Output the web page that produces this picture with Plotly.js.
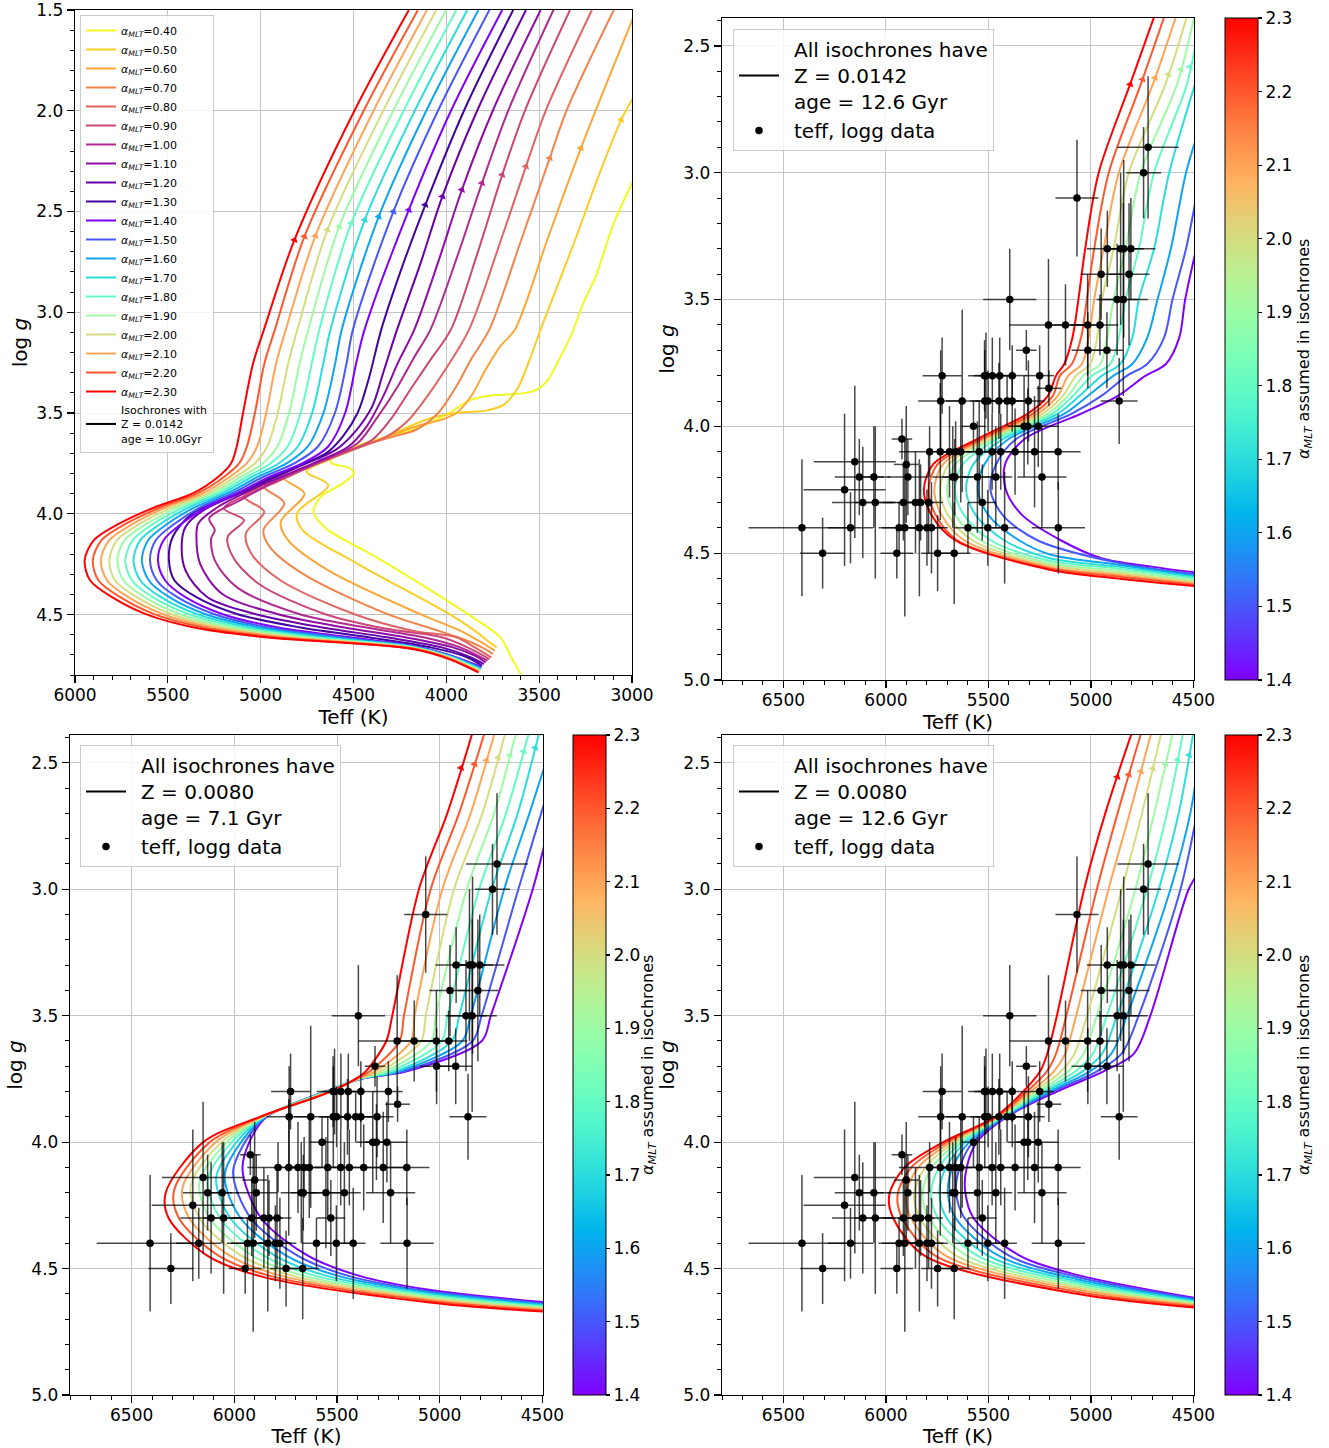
<!DOCTYPE html>
<html><head><meta charset="utf-8">
<script src="https://cdn.plot.ly/plotly-3.0.1.min.js"></script>
<style>body{margin:0;background:#fff}#chart{width:1329px;height:1448px}</style>
</head><body><div id="chart"></div>
<script>
// ---------------- DATA ----------------
// Panel 1: Z=0.0142, age 10.0 Gyr, alpha 0.40..2.30
const p1_alpha = [0.4,0.5,0.6,0.7,0.8,0.9,1.0,1.1,1.2,1.3,1.4,1.5,1.6,1.7,1.8,1.9,2.0,2.1,2.2,2.3];
const p1_teff = [
 [3560,3600,3650,3709,3886,4084,4380,4636,4705,4715,4675,4557,4498,4518,4616,4626,4537,4380,4182,3985,3886,3788,3689,3571,3512,3452,3393,3330,3260,3196,3098,2990],
 [3729,3778,3847,3985,4478,4774,4804,4636,4754,4636,4478,4281,4084,3926,3788,3689,3610,3551,3492,3310,3170,3058,2990],
 [3739,3827,3926,4143,4636,4853,4892,4764,4873,4754,4557,4360,4163,4024,3946,3867,3788,3709,3630,3460,3275,2990],
 [3748,3808,3886,4044,4320,4774,4951,4985,4873,4981,4833,4636,4439,4281,4163,4044,3946,3867,3768,3600,3443,3353,3098],
 [3758,3847,3946,4182,4498,4892,5050,5080,4981,5090,4912,4675,4478,4320,4202,4103,4005,3877,3720,3571,3465,3216],
 [3768,3886,4024,4320,4656,5011,5149,5178,5090,5198,5011,4774,4557,4399,4301,4182,4084,3975,3830,3699,3577,3334],
 [3778,3926,4123,4439,4794,5129,5247,5267,5247,5277,5109,4873,4636,4478,4380,4261,4170,4085,3940,3808,3667,3423],
 [3788,3847,3965,4222,4557,4912,5208,5326,5346,5336,5228,4971,4715,4527,4429,4340,4261,4172,4040,3916,3750,3492],
 [3798,3867,4024,4320,4675,5030,5287,5405,5425,5405,5307,5070,4794,4596,4498,4399,4340,4265,4140,4021,3834,3571],
 [3808,3886,4084,4419,4794,5129,5346,5464,5494,5474,5366,5129,4853,4646,4557,4478,4419,4350,4240,4113,3905,3640],
 [3810,3985,4182,4518,4912,5208,5405,5514,5553,5523,5425,5287,5129,4951,4774,4636,4545,4485,4440,4202,3975,3699],
 [3812,3985,4182,4569,4963,5253,5449,5559,5596,5565,5462,5318,5155,4983,4817,4691,4600,4537,4503,4285,4045,3768],
 [3814,3985,4182,4618,5013,5301,5492,5602,5640,5606,5500,5348,5182,5013,4859,4746,4662,4598,4563,4364,4108,3827],
 [3816,3985,4182,4669,5064,5346,5537,5648,5685,5648,5537,5379,5208,5044,4902,4800,4723,4662,4624,4439,4170,3887],
 [3818,3985,4182,4719,5113,5391,5581,5693,5729,5689,5575,5409,5234,5074,4946,4855,4785,4724,4684,4512,4230,3946],
 [3820,3985,4182,4770,5164,5439,5624,5738,5772,5733,5610,5441,5261,5105,4987,4910,4847,4789,4743,4577,4286,4001],
 [3822,3985,4182,4819,5214,5484,5667,5784,5815,5774,5648,5470,5287,5135,5030,4965,4908,4851,4802,4640,4340,4054],
 [3824,3985,4182,4871,5265,5529,5713,5827,5861,5815,5685,5502,5312,5166,5074,5019,4970,4916,4864,4705,4392,4104],
 [3826,3985,4182,4920,5314,5577,5756,5873,5904,5857,5723,5531,5340,5196,5115,5074,5031,4979,4923,4764,4445,4153],
 [3828,3985,4182,4971,5366,5622,5800,5918,5948,5898,5760,5563,5366,5228,5159,5129,5095,5040,4982,4818,4495,4202]
];
const p1_logg = [
 [4.88,4.796,4.713,4.613,4.497,4.38,4.214,4.081,4.015,3.982,3.915,3.849,3.799,3.774,3.749,3.724,3.683,3.633,3.583,3.5,3.442,3.417,3.409,3.4,3.384,3.334,3.234,3.12,2.95,2.823,2.558,2.34],
 [4.663,4.63,4.58,4.497,4.248,4.081,3.998,3.857,3.791,3.733,3.674,3.6,3.525,3.497,3.488,3.458,3.367,3.234,3.085,2.65,2.3,2.045,1.93],
 [4.679,4.63,4.58,4.497,4.281,4.131,4.04,3.899,3.824,3.766,3.699,3.633,3.566,3.533,3.5,3.417,3.284,3.168,3.085,2.65,2.185,1.53],
 [4.696,4.663,4.63,4.58,4.497,4.297,4.164,4.081,3.948,3.865,3.799,3.724,3.658,3.616,3.583,3.5,3.367,3.234,3.085,2.65,2.235,2.0,1.5],
 [4.713,4.663,4.613,4.58,4.497,4.331,4.198,4.098,3.99,3.915,3.841,3.741,3.674,3.616,3.533,3.417,3.284,3.085,2.68,2.276,2.0,1.5],
 [4.721,4.663,4.613,4.571,4.497,4.347,4.214,4.115,4.032,3.973,3.882,3.783,3.699,3.633,3.533,3.367,3.234,3.085,2.7,2.318,2.0,1.5],
 [4.729,4.663,4.613,4.563,4.497,4.364,4.231,4.123,4.081,4.023,3.932,3.816,3.724,3.65,3.533,3.367,3.218,3.085,2.72,2.359,2.0,1.5],
 [4.737,4.704,4.663,4.613,4.563,4.497,4.397,4.248,4.115,4.048,3.965,3.849,3.749,3.666,3.566,3.417,3.251,3.085,2.74,2.392,2.0,1.5],
 [4.746,4.713,4.663,4.613,4.563,4.497,4.414,4.281,4.148,4.065,3.982,3.882,3.766,3.683,3.6,3.467,3.3,3.085,2.76,2.425,2.0,1.5],
 [4.754,4.713,4.663,4.613,4.563,4.497,4.414,4.331,4.231,4.115,3.998,3.899,3.783,3.699,3.616,3.5,3.334,3.085,2.78,2.467,2.0,1.5],
 [4.76,4.70,4.655,4.613,4.563,4.497,4.414,4.331,4.231,4.131,4.048,3.965,3.899,3.816,3.749,3.666,3.5,3.251,3.085,2.492,2.0,1.5],
 [4.764,4.702,4.657,4.613,4.563,4.497,4.414,4.331,4.231,4.131,4.048,3.965,3.899,3.816,3.749,3.666,3.5,3.251,3.085,2.5,2.0,1.5],
 [4.768,4.705,4.658,4.613,4.563,4.497,4.414,4.331,4.231,4.131,4.048,3.965,3.899,3.816,3.749,3.666,3.5,3.251,3.085,2.525,2.0,1.5],
 [4.771,4.707,4.66,4.613,4.563,4.497,4.414,4.331,4.231,4.131,4.048,3.965,3.899,3.816,3.749,3.666,3.5,3.251,3.085,2.541,2.0,1.5],
 [4.774,4.709,4.662,4.613,4.563,4.497,4.414,4.331,4.231,4.131,4.048,3.965,3.899,3.816,3.749,3.666,3.5,3.251,3.085,2.558,2.0,1.5],
 [4.777,4.712,4.664,4.613,4.563,4.497,4.414,4.331,4.231,4.131,4.048,3.965,3.899,3.816,3.749,3.666,3.5,3.251,3.085,2.575,2.0,1.5],
 [4.78,4.714,4.666,4.613,4.563,4.497,4.414,4.331,4.231,4.131,4.048,3.965,3.899,3.816,3.749,3.666,3.5,3.251,3.085,2.591,2.0,1.5],
 [4.783,4.716,4.667,4.613,4.563,4.497,4.414,4.331,4.231,4.131,4.048,3.965,3.899,3.816,3.749,3.666,3.5,3.251,3.085,2.621,2.0,1.5],
 [4.785,4.719,4.669,4.613,4.563,4.497,4.414,4.331,4.231,4.131,4.048,3.965,3.899,3.816,3.749,3.666,3.5,3.251,3.085,2.624,2.0,1.5],
 [4.787,4.721,4.671,4.613,4.563,4.497,4.414,4.331,4.231,4.131,4.048,3.965,3.899,3.816,3.749,3.666,3.5,3.251,3.085,2.641,2.0,1.5]
];
// small arrow heads drawn on the giant branches
const p1_arrow_teff = [null,3058,3275,3443,3571,3699,3808,3916,4021,4113,4202,4285,4364,4439,4512,4577,4640,4705,4764,4818];
const p1_arrow_logg = [null,2.045,2.185,2.235,2.276,2.318,2.359,2.392,2.425,2.467,2.492,2.5,2.525,2.541,2.558,2.575,2.591,2.621,2.624,2.641];

// Panels 2-4: alpha 1.4..2.3
const hi_alpha = [1.4,1.5,1.6,1.7,1.8,1.9,2.0,2.1,2.2,2.3];
const p2_teff = [
 [4480,4705,4949,5145,5335,5415,5419,5324,5047,4868,4733,4634,4569,4540,4480],
 [4480,4868,5259,5430,5490,5463,5365,5093,4949,4823,4725,4643,4602,4536,4480],
 [4480,4868,5200,5349,5500,5552,5520,5402,5129,5015,4889,4798,4725,4675,4610,4536,4480],
 [4480,4868,5200,5422,5562,5609,5574,5430,5162,5056,4946,4856,4798,4766,4692,4618,4480],
 [4480,4868,5200,5487,5619,5663,5625,5458,5186,5088,4995,4905,4864,4831,4766,4692,4531,4480],
 [4480,4868,5200,5536,5661,5702,5662,5479,5210,5112,5036,4954,4921,4889,4831,4757,4579,4495],
 [4480,4868,5200,5577,5697,5735,5694,5500,5235,5137,5072,5003,4970,4946,4889,4815,4636,4530],
 [4480,4868,5200,5617,5728,5764,5722,5520,5259,5162,5110,5044,5011,4984,4938,4864,4697,4583],
 [4480,4868,5200,5650,5757,5792,5749,5536,5283,5186,5151,5093,5048,5020,4984,4913,4756,4640],
 [4480,4868,5200,5660,5777,5815,5770,5555,5308,5210,5170,5130,5090,5061,5028,4962,4808,4689]
];
const p2_logg = [
 [4.577,4.553,4.52,4.45,4.35,4.25,4.15,4.05,3.95,3.88,3.80,3.754,3.65,3.5,3.28],
 [4.584,4.538,4.45,4.35,4.25,4.15,4.05,3.95,3.88,3.80,3.754,3.65,3.5,3.3,3.07],
 [4.591,4.546,4.505,4.45,4.35,4.25,4.15,4.05,3.95,3.88,3.80,3.754,3.65,3.5,3.3,3.0,2.85],
 [4.596,4.553,4.52,4.45,4.35,4.25,4.15,4.05,3.95,3.88,3.80,3.754,3.65,3.5,3.3,3.0,2.62],
 [4.601,4.561,4.53,4.45,4.35,4.25,4.15,4.05,3.95,3.88,3.80,3.754,3.65,3.5,3.3,3.0,2.65,2.45],
 [4.609,4.569,4.54,4.45,4.35,4.25,4.15,4.05,3.95,3.88,3.80,3.754,3.65,3.5,3.3,3.0,2.65,2.38],
 [4.615,4.577,4.548,4.45,4.35,4.25,4.15,4.05,3.95,3.88,3.80,3.754,3.65,3.5,3.3,3.0,2.65,2.38],
 [4.621,4.585,4.555,4.45,4.35,4.25,4.15,4.05,3.95,3.88,3.80,3.754,3.65,3.5,3.3,3.0,2.65,2.38],
 [4.626,4.592,4.56,4.45,4.35,4.25,4.15,4.05,3.95,3.88,3.80,3.754,3.65,3.5,3.3,3.0,2.65,2.38],
 [4.631,4.60,4.565,4.45,4.35,4.25,4.15,4.05,3.95,3.88,3.80,3.754,3.65,3.5,3.3,3.0,2.65,2.38]
];
const p2_arrow_teff = [null,null,null,null,4517,4562,4622,4687,4748,4808];
const p2_arrow_logg = [null,null,null,null,2.583,2.593,2.612,2.626,2.632,2.652];

const p3_teff = [
 [4480,5060,5386,5640,5870,5960,5927,5842,5555,5386,5160,4795,4751,4547,4480],
 [4480,5060,5440,5690,5920,6006,5948,5846,5553,5387,5175,4840,4796,4617,4480],
 [4480,5060,5490,5745,5970,6047,5967,5850,5551,5389,5195,4890,4849,4686,4563,4480],
 [4480,5060,5545,5800,6020,6088,5989,5853,5548,5391,5215,4940,4905,4747,4620,4515],
 [4480,5060,5600,5855,6070,6129,6013,5857,5545,5393,5240,4990,4962,4808,4677,4565],
 [4480,5060,5655,5910,6120,6170,6037,5860,5542,5395,5265,5040,5019,4868,4735,4628],
 [4480,5060,5710,5965,6170,6211,6062,5863,5539,5398,5290,5090,5068,4930,4792,4680],
 [4480,5060,5765,6020,6220,6252,6090,5867,5536,5400,5315,5140,5122,4987,4849,4732],
 [4480,5060,5820,6075,6270,6293,6119,5871,5533,5405,5340,5195,5174,5044,4906,4781],
 [4480,5060,5875,6130,6320,6334,6151,5875,5530,5410,5360,5260,5231,5101,4963,4840]
];
const p3_logg = [
 [4.634,4.583,4.53,4.45,4.3,4.11,4.0,3.9,3.8,3.75,3.72,3.6,3.5,3.0,2.79],
 [4.639,4.589,4.53,4.45,4.3,4.12,4.0,3.9,3.8,3.75,3.72,3.6,3.5,3.0,2.63],
 [4.643,4.594,4.53,4.45,4.3,4.13,4.0,3.9,3.8,3.75,3.72,3.6,3.5,3.0,2.7,2.49],
 [4.647,4.6,4.53,4.45,4.3,4.14,4.0,3.9,3.8,3.75,3.72,3.6,3.5,3.0,2.7,2.38],
 [4.651,4.605,4.53,4.45,4.3,4.15,4.0,3.9,3.8,3.75,3.72,3.6,3.5,3.0,2.7,2.38],
 [4.655,4.611,4.53,4.45,4.3,4.16,4.0,3.9,3.8,3.75,3.72,3.6,3.5,3.0,2.7,2.38],
 [4.659,4.616,4.53,4.45,4.3,4.17,4.0,3.9,3.8,3.75,3.72,3.6,3.5,3.0,2.7,2.38],
 [4.663,4.622,4.53,4.45,4.3,4.18,4.0,3.9,3.8,3.75,3.72,3.6,3.5,3.0,2.7,2.38],
 [4.667,4.627,4.53,4.45,4.3,4.19,4.0,3.9,3.8,3.75,3.72,3.6,3.5,3.0,2.7,2.38],
 [4.671,4.633,4.53,4.45,4.3,4.2,4.0,3.9,3.8,3.75,3.72,3.6,3.5,3.0,2.7,2.38]
];
const p3_arrow_teff = [null,null,null,4535,4591,4658,4715,4772,4830,4896];
const p3_arrow_logg = [null,null,null,2.44,2.455,2.47,2.48,2.49,2.505,2.52];

const p4_teff = [
 [4480,5068,5345,5573,5614,5606,5557,5410,5166,4938,4790,4710,4523,4480],
 [4480,5068,5397,5617,5658,5640,5576,5416,5186,4970,4850,4767,4563,4480],
 [4480,5068,5448,5660,5698,5674,5594,5422,5204,5005,4900,4824,4612,4515,4480],
 [4480,5068,5500,5704,5739,5707,5612,5429,5222,5040,4945,4873,4669,4572,4500],
 [4480,5068,5552,5747,5780,5741,5630,5435,5240,5075,4990,4922,4726,4629,4550],
 [4480,5068,5603,5791,5821,5775,5648,5441,5258,5110,5035,4971,4783,4691,4600],
 [4480,5068,5655,5834,5862,5808,5666,5448,5276,5145,5080,5019,4849,4751,4656],
 [4480,5068,5707,5878,5902,5842,5684,5454,5294,5180,5125,5072,4914,4811,4705],
 [4480,5068,5758,5921,5943,5876,5702,5460,5312,5215,5170,5120,4971,4870,4754],
 [4480,5068,5810,5965,5984,5909,5720,5467,5330,5248,5213,5166,5033,4930,4800]
];
const p4_logg = [
 [4.618,4.525,4.45,4.3,4.19,4.1,4.0,3.9,3.8,3.72,3.65,3.5,3.0,2.94],
 [4.622,4.533,4.45,4.3,4.194,4.1,4.0,3.9,3.8,3.72,3.65,3.5,3.0,2.69],
 [4.626,4.542,4.45,4.3,4.196,4.1,4.0,3.9,3.8,3.72,3.65,3.5,3.0,2.7,2.52],
 [4.63,4.55,4.45,4.3,4.198,4.1,4.0,3.9,3.8,3.72,3.65,3.5,3.0,2.7,2.38],
 [4.634,4.558,4.45,4.3,4.2,4.1,4.0,3.9,3.8,3.72,3.65,3.5,3.0,2.7,2.38],
 [4.638,4.567,4.45,4.3,4.202,4.1,4.0,3.9,3.8,3.72,3.65,3.5,3.0,2.7,2.38],
 [4.642,4.575,4.45,4.3,4.204,4.1,4.0,3.9,3.8,3.72,3.65,3.5,3.0,2.7,2.38],
 [4.646,4.583,4.45,4.3,4.206,4.1,4.0,3.9,3.8,3.72,3.65,3.5,3.0,2.7,2.38],
 [4.65,4.592,4.45,4.3,4.208,4.1,4.0,3.9,3.8,3.72,3.65,3.5,3.0,2.7,2.38],
 [4.655,4.6,4.45,4.3,4.21,4.1,4.0,3.9,3.8,3.72,3.65,3.5,3.0,2.7,2.38]
];
const p4_arrow_teff = [null,null,null,4520,4577,4636,4698,4756,4815,4871];
const p4_arrow_logg = [null,null,null,2.47,2.488,2.505,2.522,2.534,2.547,2.556];

// Observed stars (same in panels 2-4)
const obs_teff = [4721,4743,5068, 4920,4855,4840,4805, 4950,4814, 5396,4872,4842, 5207,5124,5016,4956, 5315,5015,4922,
 5726,5519,5512,5481,5445,5384,5250, 5205, 5733,5628,5518,5502,5449,5409,5384,5305,4862, 5573,5326,5308,5257, 5922,
 5787,5735,5690,5660,5635,5545,5482,5440,5370,5275,5160, 6152, 5901, 6130,6059,5893,5674,5664,5554,5464,5239, 6202,
 6113,6052,5915,5856,5831,5792,5530, 6410,6173,5936,5908,5837,5800,5778,5600,5503,5421,5159, 6309,5947,5748,5667];
const obs_logg = [2.9,3.0,3.1, 3.3,3.3,3.3,3.3, 3.4,3.4, 3.5,3.5,3.5, 3.6,3.6,3.6,3.6, 3.7,3.7,3.7,
 3.8,3.8,3.8,3.8,3.8,3.8,3.8, 3.85, 3.9,3.9,3.9,3.9,3.9,3.9,3.9,3.9,3.9, 4.0,4.0,4.0,4.0, 4.05,
 4.1,4.1,4.1,4.1,4.1,4.1,4.1,4.1,4.1,4.1,4.1, 4.14, 4.15, 4.2,4.2,4.2,4.2,4.2,4.2,4.2,4.2, 4.25,
 4.3,4.3,4.3,4.3,4.3,4.3,4.3, 4.4,4.4,4.4,4.4,4.4,4.4,4.4,4.4,4.4,4.4,4.4, 4.5,4.5,4.5,4.5];
const obs_teff_err = [150,85,105, 100,80,100,120, 100,100, 130,100,120, 190,100,80,90, 50,80,80,
 95,80,60,70,80,70,70, 60, 110,80,70,60,60,80,60,80,90, 60,80,60,100, 50,
 150,70,60,80,100,60,60,80,80,100,110, 200, 60, 120,80,100,100,60,80,80,120, 200,
 150,100,100,90,60,70,70, 260,110,100,110,80,80,80,70,80,60,130, 110,80,80,80];
const obs_logg_err = [0.28,0.18,0.23, 0.15,0.3,0.35,0.2, 0.18,0.28, 0.2,0.22,0.38, 0.26,0.16,0.2,0.12, 0.08,0.15,0.15,
 0.15,0.14,0.17,0.15,0.15,0.12,0.12, 0.07, 0.2,0.36,0.2,0.12,0.15,0.1,0.12,0.16,0.17, 0.1,0.2,0.15,0.16, 0.08,
 0.1,0.27,0.18,0.12,0.2,0.2,0.15,0.15,0.17,0.22,0.15, 0.3, 0.23, 0.15,0.2,0.15,0.2,0.15,0.22,0.2,0.2, 0.3,
 0.22,0.3,0.15,0.2,0.15,0.2,0.15, 0.27,0.14,0.1,0.35,0.27,0.15,0.18,0.1,0.15,0.22,0.18, 0.14,0.1,0.15,0.2];

const cb_ticks = [1.4,1.5,1.6,1.7,1.8,1.9,2.0,2.1,2.2,2.3];
const p1_xticks = [6000,5500,5000,4500,4000,3500,3000];
const p1_yticks = [1.5,2.0,2.5,3.0,3.5,4.0,4.5];
const px_xticks = [6500,6000,5500,5000,4500];
const px_yticks = [2.5,3.0,3.5,4.0,4.5,5.0];

// ---------------- STYLE ----------------
const FONT = 'DejaVu Sans, Liberation Sans, sans-serif';
const W = 1329, H = 1448;
function rainbowRGB(t){
  const r = Math.min(1, Math.abs(2*t-0.5)), g = Math.sin(Math.PI*t), b = Math.cos(Math.PI*t/2);
  return 'rgb('+Math.round(255*r)+','+Math.round(255*g)+','+Math.round(255*b)+')';
}
const plasmaStops = [[13,8,135],[65,4,157],[106,0,168],[143,13,164],[177,42,144],[204,71,120],[225,100,98],[242,132,75],[252,166,54],[252,206,37],[240,249,33]];
function plasmaRGB(t){
  const s = Math.max(0, Math.min(10, t*10)); const i = Math.min(9, Math.floor(s)); const f = s - i;
  const a = plasmaStops[i], b = plasmaStops[i+1];
  return 'rgb('+[0,1,2].map(k=>Math.round(a[k]+(b[k]-a[k])*f)).join(',')+')';
}
function alphaColor(a){ return a >= 1.35 ? rainbowRGB((a-1.4)/0.9) : plasmaRGB(1-(a-0.4)); }
const rainbowScale = [];
for (let i=0;i<=20;i++){ rainbowScale.push([i/20, rainbowRGB(i/20)]); }

function dx(a,b){ return [a/W, b/W]; }
function dy(top,bottom){ return [1-bottom/H, 1-top/H]; }

function xAxis(domain, range, anchor, tickvals){
  return {domain, range, anchor, tickvals, ticktext: tickvals.map(String),
    showline:true, mirror:true, linecolor:'black', linewidth:1.2,
    ticks:'outside', ticklen:7, tickwidth:1.2, tickcolor:'black', ticklabelstandoff:-3, ticklabeloverflow:'allow',
    showgrid:true, gridcolor:'#c4c4c4', gridwidth:1, zeroline:false,
    tickfont:{family:FONT, size:17, color:'black'},
    minor:{dtick:100, ticks:'outside', ticklen:4, tickwidth:1, tickcolor:'black', showgrid:false},
    title:{text:'Teff (K)', font:{family:FONT, size:20, color:'black'}, standoff:6}};
}
function yAxis(domain, range, anchor, tickvals){
  return {domain, range, anchor, tickvals, ticktext: tickvals.map(v=>v.toFixed(1)),
    showline:true, mirror:true, linecolor:'black', linewidth:1.2,
    ticks:'outside', ticklen:7, tickwidth:1.2, tickcolor:'black', ticklabeloverflow:'allow',
    showgrid:true, gridcolor:'#c4c4c4', gridwidth:1, zeroline:false,
    tickfont:{family:FONT, size:17, color:'black'},
    minor:{dtick:0.1, ticks:'outside', ticklen:4, tickwidth:1, tickcolor:'black', showgrid:false},
    title:{text:'log <i>g</i>', font:{family:FONT, size:20, color:'black'}, standoff:3}};
}

const traces = [];
function addCurves(alphas, teffs, loggs, xa, ya, legendName, showleg){
  alphas.forEach((a,i)=>{
    traces.push({type:'scatter', mode:'lines', x:teffs[i], y:loggs[i], xaxis:xa, yaxis:ya,
      line:{color:alphaColor(a), width:2, shape:'spline', smoothing:0.9},
      name:'<i>α<sub>MLT</sub></i>=' + a.toFixed(2), showlegend:showleg, legend:legendName, hoverinfo:'skip'});
  });
}
function addArrows(alphas, at, ag, xa, ya){
  traces.push({type:'scatter', mode:'markers', x:at, y:ag, xaxis:xa, yaxis:ya, showlegend:false, hoverinfo:'skip',
    marker:{symbol:'triangle-up', size:7, angle:22, color:alphas.map(alphaColor), line:{width:0}}});
}
function addLegendLine(text, xa, ya, legendName){
  traces.push({type:'scatter', mode:'lines', x:[null], y:[null], xaxis:xa, yaxis:ya,
    line:{color:'black', width:2}, name:text, showlegend:true, legend:legendName, hoverinfo:'skip'});
}
function addData(xa, ya, legendName){
  traces.push({type:'scatter', mode:'markers', x:obs_teff, y:obs_logg, xaxis:xa, yaxis:ya,
    marker:{color:'black', size:7.5},
    error_x:{type:'data', array:obs_teff_err, visible:true, color:'rgba(0,0,0,0.72)', thickness:1.5, width:0},
    error_y:{type:'data', array:obs_logg_err, visible:true, color:'rgba(0,0,0,0.72)', thickness:1.5, width:0},
    name:'\u2002teff, logg data', showlegend:true, legend:legendName, hoverinfo:'skip'});
}
function addColorbar(xa, ya, xpx, topPx, botPx){
  traces.push({type:'scatter', mode:'markers', x:[null], y:[null], xaxis:xa, yaxis:ya, showlegend:false, hoverinfo:'skip',
    marker:{size:1, opacity:0, color:[cb_ticks[0]], cmin:cb_ticks[0], cmax:cb_ticks[cb_ticks.length-1], colorscale:rainbowScale, showscale:true,
      colorbar:{x:xpx/W, xanchor:'left', xpad:0, ypad:0, y:1-((topPx+botPx)/2)/H, yanchor:'middle', len:(botPx-topPx)/H, lenmode:'fraction',
        thickness:33, thicknessmode:'pixels', outlinecolor:'black', outlinewidth:1,
        ticks:'outside', ticklen:4, tickwidth:1.2, tickcolor:'black', tickvals:cb_ticks, ticktext:cb_ticks.map(v=>v.toFixed(1)),
        tickfont:{family:FONT, size:17, color:'black'}, title:{text:''}}}});
}
const cbTitle = '<i>α<sub>MLT</sub></i> assumed in isochrones';
function cbAnnot(xpx, topPx, botPx){
  return {xref:'paper', yref:'paper', x:xpx/W, y:1-((topPx+botPx)/2)/H, xanchor:'center', yanchor:'middle',
    text:cbTitle, textangle:-90, showarrow:false, font:{family:FONT, size:16, color:'black'}};
}

// Panel 1
addCurves(p1_alpha, p1_teff, p1_logg, 'x', 'y', 'legend', true);
addArrows(p1_alpha, p1_arrow_teff, p1_arrow_logg, 'x', 'y');
addLegendLine('Isochrones with<br>Z = 0.0142<br>age = 10.0Gyr', 'x', 'y', 'legend');
// Panel 2
addCurves(hi_alpha, p2_teff, p2_logg, 'x2', 'y2', 'legend2', false);
addArrows(hi_alpha, p2_arrow_teff, p2_arrow_logg, 'x2', 'y2');
addLegendLine('\u2002All isochrones have<br>\u2002Z = 0.0142<br>\u2002age = 12.6 Gyr', 'x2', 'y2', 'legend2');
addData('x2','y2','legend2');
addColorbar('x2','y2', 1225, 18, 680);
// Panel 3
addCurves(hi_alpha, p3_teff, p3_logg, 'x3', 'y3', 'legend3', false);
addArrows(hi_alpha, p3_arrow_teff, p3_arrow_logg, 'x3', 'y3');
addLegendLine('\u2002All isochrones have<br>\u2002Z = 0.0080<br>\u2002age = 7.1 Gyr', 'x3', 'y3', 'legend3');
addData('x3','y3','legend3');
addColorbar('x3','y3', 573, 735, 1395);
// Panel 4
addCurves(hi_alpha, p4_teff, p4_logg, 'x4', 'y4', 'legend4', false);
addArrows(hi_alpha, p4_arrow_teff, p4_arrow_logg, 'x4', 'y4');
addLegendLine('\u2002All isochrones have<br>\u2002Z = 0.0080<br>\u2002age = 12.6 Gyr', 'x4', 'y4', 'legend4');
addData('x4','y4','legend4');
addColorbar('x4','y4', 1225, 735, 1395);

function legendBox(xpx, ypx, size, itemwidth){
  return {x:xpx/W, y:1-ypx/H, xanchor:'left', yanchor:'top', xref:'paper', yref:'paper',
    bgcolor:'rgba(255,255,255,0.85)', bordercolor:'#cccccc', borderwidth:1,
    font:{family:FONT, size:size, color:'black'}, itemwidth:itemwidth, traceorder:'normal', tracegroupgap:0};
}

const layout = {
  width:W, height:H, margin:{l:0,r:0,t:0,b:0}, paper_bgcolor:'white', plot_bgcolor:'white',
  font:{family:FONT, color:'black'}, showlegend:true,
  xaxis: xAxis(dx(75,632), [6000,3000], 'y', p1_xticks),
  yaxis: yAxis(dy(10,675), [4.8,1.5], 'x', p1_yticks),
  xaxis2: xAxis(dx(722,1194), [6800,4497], 'y2', px_xticks),
  yaxis2: yAxis(dy(18,680), [5.0,2.39], 'x2', px_yticks),
  xaxis3: xAxis(dx(70,543), [6800,4497], 'y3', px_xticks),
  yaxis3: yAxis(dy(735,1395), [5.0,2.39], 'x3', px_yticks),
  xaxis4: xAxis(dx(722,1194), [6800,4497], 'y4', px_xticks),
  yaxis4: yAxis(dy(735,1395), [5.0,2.39], 'x4', px_yticks),
  legend: legendBox(80, 15, 11, 30),
  legend2: legendBox(733, 29, 20, 40),
  legend3: legendBox(80, 745, 20, 40),
  legend4: legendBox(733, 745, 20, 40),
  annotations: [cbAnnot(1304, 18, 680), cbAnnot(648, 735, 1395), cbAnnot(1304, 735, 1395)]
};
Plotly.newPlot('chart', traces, layout, {staticPlot:true, displayModeBar:false});
</script></body></html>
